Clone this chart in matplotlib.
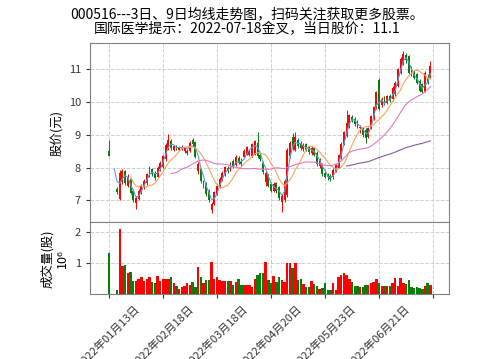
import numpy as np
import pandas as pd
import matplotlib
matplotlib.use('Agg')
import matplotlib.pyplot as plt

plt.rcParams['font.family'] = ['Noto Sans CJK SC', 'DejaVu Sans']
plt.rcParams['axes.unicode_minus'] = False

nan = np.nan

title_lines = ['000516---3日、9日均线走势图，扫码关注获取更多股票。',
               '国际医学提示：2022-07-18金叉，当日股价：11.1']
price_label = '股价(元)'
volume_label = '成交量(股)\n10⁶'
date_labels = ['2022年01月13日', '2022年02月18日', '2022年03月18日',
               '2022年04月20日', '2022年05月23日', '2022年06月21日', '']

opens = [8.52, nan, nan, 7.35, 7.05, 7.55, 7.90, 7.45, 7.65, 7.30,
         6.92, 7.05, 7.25, 7.40, 7.52, 7.75, 7.95, 7.85, 7.72, 7.95,
         8.02, 8.25, 8.60, 8.80, 8.55, 8.66, 8.55, 8.58, 8.50, 8.45,
         8.50, 8.85, 8.78, 7.90, 7.95, 7.45, 7.50, 7.30, 6.72, 6.88,
         7.18, 7.40, 7.62, 7.78, 8.00, 7.92, 8.20, 8.08, 8.30, 8.20,
         8.32, 8.42, 8.40, 8.35, 8.40, 8.75, 8.40, 8.15, 7.55, 7.80,
         7.50, 7.30, 7.52, 7.40, 6.95, 7.00, 7.15, 8.35, 8.95, 8.55,
         8.85, 8.75, 8.58, 8.72, 8.62, 8.45, 8.60, 8.45, 8.05, 8.10,
         7.85, 7.80, 7.75, 7.70, 7.90, 8.00, 8.30, 8.72, 8.98, 9.25,
         9.55, 9.50, 9.40, 9.22, 9.20, 9.15, 8.95, 9.20, 9.50, 9.85,
         10.68, 9.90, 10.15, 9.98, 10.20, 10.10, 10.25, 10.50, 10.90, 11.20,
         11.45, 11.40, 11.00, 10.90, 10.85, 10.65, 10.55, 10.32, 10.75, 10.80]
highs = [8.85, nan, nan, 7.40, 7.92, 7.95, 7.92, 7.80, 7.68, 7.35,
         7.12, 7.35, 7.50, 7.65, 7.85, 8.05, 8.00, 7.90, 8.05, 8.20,
         8.40, 8.75, 9.02, 8.88, 8.70, 8.70, 8.66, 8.68, 8.64, 8.58,
         8.80, 8.90, 8.82, 8.18, 8.00, 7.62, 7.55, 7.35, 6.95, 7.28,
         7.50, 7.70, 7.90, 8.05, 8.05, 8.18, 8.25, 8.38, 8.35, 8.30,
         8.58, 8.66, 8.55, 8.76, 8.85, 9.08, 8.45, 8.20, 7.92, 7.82,
         7.55, 7.55, 7.55, 7.45, 7.20, 7.65, 8.60, 8.80, 9.05, 9.10,
         8.90, 8.80, 8.75, 8.76, 8.66, 8.66, 8.64, 8.50, 8.28, 8.15,
         7.90, 7.85, 7.82, 7.98, 8.12, 8.42, 8.78, 9.12, 9.75, 9.65,
         9.60, 9.55, 9.45, 9.30, 9.25, 9.20, 9.25, 9.62, 9.88, 10.35,
         10.75, 10.15, 10.20, 10.22, 10.25, 10.48, 10.65, 11.05, 11.38, 11.55,
         11.50, 11.45, 11.10, 10.98, 10.90, 10.70, 10.60, 10.95, 10.85, 11.25]
lows = [8.35, nan, nan, 7.20, 7.00, 7.50, 7.48, 7.40, 7.18, 6.95,
        6.75, 7.00, 7.20, 7.35, 7.48, 7.70, 7.75, 7.62, 7.70, 7.90,
        7.98, 8.20, 8.55, 8.55, 8.50, 8.55, 8.52, 8.55, 8.45, 8.40,
        8.48, 8.65, 8.28, 7.80, 7.52, 7.38, 7.12, 6.95, 6.60, 6.85,
        7.15, 7.38, 7.58, 7.75, 7.85, 7.90, 8.00, 8.05, 8.10, 8.05,
        8.30, 8.40, 8.35, 8.32, 8.38, 8.30, 8.20, 7.82, 7.45, 7.40,
        7.25, 7.25, 7.22, 7.02, 6.65, 6.95, 7.10, 8.30, 8.55, 8.50,
        8.60, 8.55, 8.52, 8.50, 8.42, 8.40, 8.35, 8.05, 8.00, 7.75,
        7.68, 7.62, 7.60, 7.65, 7.88, 7.98, 8.25, 8.70, 8.95, 9.20,
        9.40, 9.28, 9.20, 9.05, 8.95, 8.75, 8.90, 9.18, 9.45, 9.80,
        9.75, 9.85, 9.90, 9.95, 10.00, 10.05, 10.20, 10.45, 10.85, 11.15,
        11.20, 10.85, 10.80, 10.70, 10.55, 10.30, 10.28, 10.30, 10.55, 10.75]
closes = [8.37, 8.05, 7.45, 7.25, 7.85, 7.90, 7.52, 7.70, 7.22, 7.00,
          7.08, 7.30, 7.45, 7.60, 7.80, 7.98, 7.80, 7.68, 8.00, 8.15,
          8.35, 8.70, 8.85, 8.60, 8.65, 8.58, 8.62, 8.64, 8.60, 8.52,
          8.75, 8.72, 8.32, 8.10, 7.58, 7.55, 7.18, 7.00, 6.90, 7.25,
          7.45, 7.65, 7.85, 8.02, 7.90, 8.12, 8.05, 8.32, 8.15, 8.10,
          8.52, 8.62, 8.50, 8.72, 8.80, 8.35, 8.25, 7.88, 7.85, 7.45,
          7.30, 7.50, 7.28, 7.08, 7.12, 7.60, 8.55, 8.75, 8.62, 8.95,
          8.65, 8.60, 8.70, 8.55, 8.48, 8.60, 8.40, 8.10, 8.22, 7.80,
          7.72, 7.70, 7.65, 7.92, 8.08, 8.38, 8.72, 9.08, 9.35, 9.60,
          9.45, 9.32, 9.25, 9.25, 9.00, 8.92, 9.20, 9.58, 9.85, 10.30,
          9.80, 10.10, 9.95, 10.18, 10.05, 10.42, 10.60, 11.00, 11.32, 11.48,
          11.30, 10.90, 10.85, 10.75, 10.60, 10.35, 10.32, 10.90, 10.60, 11.10]
volumes = [1.33, nan, nan, 0.14, 2.09, 0.90, 0.93, 0.67, 0.72, 0.44,
           0.44, 0.50, 0.55, 0.44, 0.50, 0.55, 0.40, 0.35, 0.60, 0.44,
           0.48, 0.48, 0.50, 0.56, 0.35, 0.27, 0.16, 0.24, 0.27, 0.35,
           0.30, 0.40, 0.24, 0.88, 0.56, 0.37, 0.46, 0.46, 1.02, 0.50,
           0.56, 0.45, 0.43, 0.43, 0.43, 0.43, 0.30, 0.40, 0.48, 0.30,
           0.30, 0.30, 0.30, 0.24, 0.50, 0.62, 0.67, 0.67, 1.02, 0.45,
           0.37, 0.58, 0.40, 0.56, 0.45, 0.40, 1.00, 1.00, 0.83, 0.99,
           0.45, 0.48, 0.33, 0.22, 0.24, 0.44, 0.33, 0.27, 0.16, 0.19,
           0.35, 0.15, 0.15, 0.35, 0.15, 0.56, 0.62, 0.67, 0.62, 0.50,
           0.40, 0.27, 0.25, 0.22, 0.22, 0.30, 0.30, 0.35, 0.40, 0.48,
           0.35, 0.25, 0.27, 0.25, 0.27, 0.35, 0.51, 0.25, 0.51, 0.35,
           0.33, 0.45, 0.22, 0.20, 0.24, 0.20, 0.17, 0.27, 0.37, 0.30]

ma_windows = [3, 9, 24, 89]
ma_colors = ['#5b9bd5', '#f5a55a', '#e377c2', '#7b5fa8']

o = np.array(opens)
h = np.array(highs)
l = np.array(lows)
c = np.array(closes)
v = np.array(volumes)
x = np.arange(len(c))
valid = ~np.isnan(o)
up = c >= o
cols = np.where(up, '#ff0000', '#0a7d0a')

fig = plt.figure(figsize=(4.99, 3.59), dpi=100)
ax = fig.add_axes([0.1804, 0.3808, 0.72, 0.4986])
axv = fig.add_axes([0.1804, 0.1802, 0.72, 0.2006], sharex=ax)

grid_kw = dict(ls='--', color='#cfcfcf', lw=0.7)

# candles
ax.vlines(x[valid], l[valid], h[valid], colors=cols[valid], lw=0.7, zorder=3)
body = np.where(np.abs(c - o) < 0.02, 0.02, c - o)
ax.bar(x[valid], body[valid], bottom=o[valid], width=0.7, color=cols[valid],
       linewidth=0, zorder=3)

# moving averages
cs = pd.Series(c)
for w, col in zip(ma_windows, ma_colors):
    ax.plot(x, cs.rolling(w).mean(), color=col, lw=0.8, zorder=4)

ax.set_xlim(-7, 126)
ax.set_ylim(6.33, 11.8)
ax.set_yticks([7, 8, 9, 10, 11])
ax.set_ylabel(price_label, fontsize=9)
ax.grid(True, **grid_kw)
ax.set_axisbelow(True)
ax.tick_params(axis='x', labelbottom=False, length=0)
ax.tick_params(axis='y', labelsize=8, length=3, colors='#333333')

# volume
vv = ~np.isnan(v)
axv.bar(x[vv], v[vv], width=0.9, color=cols[vv], linewidth=0, zorder=3)
axv.set_ylim(0, 2.3)
axv.set_yticks([1, 2])
axv.set_ylabel(volume_label, fontsize=9)
axv.grid(True, **grid_kw)
axv.set_axisbelow(True)
axv.set_xticks(np.arange(0, 121, 20))
axv.set_xticklabels(date_labels, rotation=45, fontsize=8)
axv.tick_params(axis='both', labelsize=8, length=3, colors='#333333')

for a in (ax, axv):
    for s in a.spines.values():
        s.set_color('#808080')

fig.suptitle('\n'.join(title_lines), x=0.495, y=1 - 7 / 359, fontsize=10,
             va='top', linespacing=1.15)

fig.savefig('out.png', dpi=100)
